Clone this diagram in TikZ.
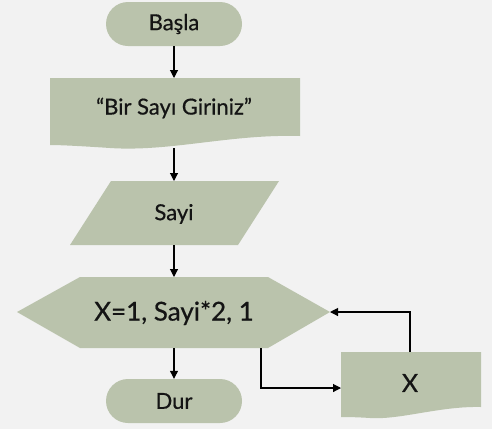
\documentclass[tikz,border=0pt]{standalone}
\usepackage{fontspec}
\setmainfont{Lato}
\newfontfamily\lblfont{Lato}[FakeBold=0.6]
\usetikzlibrary{shapes.misc,arrows.meta}
\definecolor{bg}{RGB}{242,242,242}
\definecolor{shapefill}{RGB}{186,195,172}
\definecolor{txt}{RGB}{20,20,20}
\tikzset{
  term/.style={rounded rectangle, fill=shapefill, minimum width=136pt, minimum height=44pt, inner sep=0pt, text=txt, font=\lblfont\fontsize{22}{26}\selectfont},
  shapefilled/.style={fill=shapefill, draw=none},
  lbl/.style={inner sep=0pt, text=txt, font=\lblfont\fontsize{22}{26}\selectfont},
  biglbl/.style={inner sep=0pt, text=txt, font=\lblfont\fontsize{26}{30}\selectfont},
  xlbl/.style={inner sep=0pt, text=txt, font=\lblfont\fontsize{25}{30}\selectfont},
  conn/.style={line width=1.1pt, -{Triangle[length=8pt,width=8pt]}}
}
\begin{document}
\begin{tikzpicture}[x=1pt,y=-1pt]
\fill[bg] (0,0) rectangle (492,429);
\useasboundingbox (0,0) rectangle (492,429);
% Start
\node[term] (basla) at (174,24) {Başla};
% Document 1
\fill[shapefilled] (50,78) -- (300,78) -- (300,136) .. controls (230,134) and (170,152) .. (110,148) .. controls (80,146) and (60,145) .. (50,145) -- cycle;
\node[lbl] (giris) at (174,108) {“Bir Sayı Giriniz”};
\coordinate (d1top) at (174,78);
\coordinate (d1bot) at (174,148);
% Parallelogram
\fill[shapefilled] (111,181) -- (279,181) -- (238,245) -- (70,245) -- cycle;
\node[lbl] (sayi) at (174,214) {Sayi};
\coordinate (ptop) at (174,181);
\coordinate (pbot) at (174,245);
% Hexagon
\fill[shapefilled] (17,312) -- (80,277) -- (268,277) -- (330,312) -- (268,348) -- (80,348) -- cycle;
\node[biglbl] (dongu) at (174,313) {X=1, Sayi*2, 1};
\coordinate (htop) at (174,277);
\coordinate (hbot) at (174,348);
\coordinate (hbr) at (261,348);
\coordinate (hright) at (330,312);
% Stop
\node[term] (dur) at (174,401) {Dur};
% Document 2
\fill[shapefilled] (341,352) -- (481,352) -- (481,407) .. controls (440,406) and (400,420) .. (370,418) .. controls (355,417) and (345,417) .. (341,417) -- cycle;
\node[xlbl] (xout) at (410,383) {X};
\coordinate (d2left) at (341,388);
\coordinate (d2top) at (410,352);
% Connectors
\draw[conn] (basla.south) -- (d1top);
\draw[conn] (d1bot) -- (ptop);
\draw[conn] (pbot) -- (htop);
\draw[conn] (hbot) -- (dur.north);
\draw[conn] (hbr) |- (d2left);
\draw[conn] (d2top) |- (hright);
\end{tikzpicture}
\end{document}
